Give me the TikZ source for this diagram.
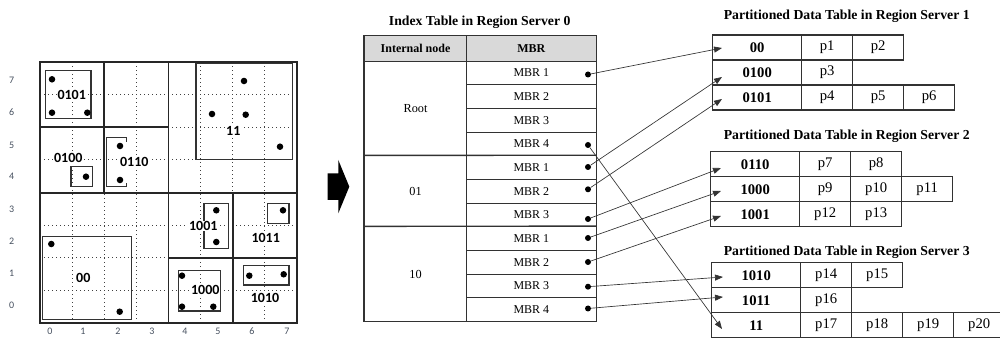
\documentclass[tikz,border=0pt]{standalone}
\usepackage{fontspec}
\setmainfont{Liberation Serif}
\newfontfamily\calib{Carlito}
\usetikzlibrary{arrows.meta}
\definecolor{axisc}{RGB}{70,80,95}
\definecolor{hdrgray}{RGB}{217,217,217}
\definecolor{tline}{RGB}{50,50,50}
\begin{document}
\begin{tikzpicture}[x=0.75pt,y=-0.75pt,
  quad/.style={line width=1.4pt, draw=black!85},
  dotline/.style={line width=0.75pt, draw=black!75, dash pattern=on 0.75pt off 2.25pt},
  mbrbox/.style={line width=0.8pt, draw=black!80},
  glabel/.style={font=\calib\bfseries\fontsize{10.5}{12}\selectfont, fill=white, inner sep=0.6pt},
  axlabel/.style={font=\calib\fontsize{7.5}{9}\selectfont, text=axisc},
  ttitle/.style={font=\bfseries\fontsize{10.3}{12}\selectfont, inner sep=0pt},
  tcell/.style={draw=tline, line width=0.6pt, inner sep=0pt, minimum height=17.75pt, minimum width=97pt, font=\fontsize{9}{10}\selectfont},
  hcell/.style={draw=tline, line width=0.6pt, fill=hdrgray, inner sep=0pt, minimum height=19pt, font=\bfseries\fontsize{9}{10}\selectfont},
  gcell/.style={draw=tline, line width=0.6pt, inner sep=0pt, minimum width=76.8pt, font=\fontsize{9.2}{10}\selectfont},
  sepline/.style={draw=tline, line width=1.1pt},
  keycell/.style={draw=tline, line width=0.8pt, inner sep=0pt, minimum height=18.75pt, minimum width=66.75pt, font=\bfseries\fontsize{11}{12}\selectfont},
  pcell/.style={draw=tline, line width=0.8pt, inner sep=0pt, minimum height=18.75pt, minimum width=38.25pt, font=\fontsize{11}{12}\selectfont},
  tdot/.style={circle, fill=black, inner sep=0pt, minimum size=4.5pt},
  conn/.style={draw=black!80, line width=0.5pt, -{Triangle[length=6pt,width=4.5pt]}}
]
\useasboundingbox (0,0) rectangle (1000,338);

% ---------- quadtree grid ----------
\begin{scope}[shift={(40,323)}, x=24.094pt, y=24.45pt]
  \foreach \i in {1,...,7}{
    \draw[dotline] (\i,0) -- (\i,8);
    \draw[dotline] (0,\i) -- (8,\i);
  }
  \draw[quad] (0,0) rectangle (8,8);
  \draw[quad] (4,0) -- (4,8) (0,4) -- (8,4) (2,4) -- (2,8) (0,6) -- (4,6) (6,0) -- (6,4) (4,2) -- (8,2);
\end{scope}

% MBR boxes
\draw[mbrbox] (45.3,70.7) rectangle (91,118.3);
\draw[mbrbox] (71,166.7) rectangle (92.3,186.7);
\draw[mbrbox] (126.7,141.7) -- (126.7,137.3) -- (106.7,137.3) -- (106.7,186.7) -- (126.7,186.7) -- (126.7,182.7);
\draw[mbrbox] (196,63.3) rectangle (292.3,159.3);
\draw[mbrbox] (204,203.3) rectangle (228.7,248.7);
\draw[mbrbox] (267.7,203.3) rectangle (289,223.3);
\draw[mbrbox] (178.3,270.3) rectangle (220.7,311);
\draw[mbrbox] (243.3,265.7) rectangle (289,285);
\draw[mbrbox] (42.3,236.7) rectangle (131.7,319.3);

% points
\foreach \p in {(52,79.3),(52,112.7),(87.3,112.7),(86,176.7),(120,146),(120,180),
  (244,81),(212,114),(245.7,114.7),(280,146.7),(216.3,210.3),(216.3,242),(283,210.3),
  (182,275.7),(182,306.7),(213.3,306.7),(249.3,275.7),(283.7,274.3),(51.3,244),(119.7,311.7)}
  \fill \p circle[radius=2.45pt];

% region labels
\node[glabel] (l0101) at (71.7,95) {0101};
\node[glabel] (l0100) at (68.3,157.7) {0100};
\node[glabel] (l0110) at (134.3,162.3) {0110};
\node[glabel] (l11) at (233.3,130.7) {11};
\node[glabel] (l1001) at (203.3,226) {1001};
\node[glabel] (l1011) at (265.7,238) {1011};
\node[glabel] (l1000) at (205.3,289.7) {1000};
\node[glabel] (l1010) at (265,297.7) {1010};
\node[glabel] (l00) at (83.3,278) {00};

% axis labels
\foreach \v/\yy in {7/80,6/112.3,5/145,4/176.7,3/209,2/241.7,1/273.3,0/305.7}
  \node[axlabel] (ya\v) at (11.7,\yy) {\v};
\foreach \u/\xx in {0/50,1/83,2/118,3/152,4/185,5/218,6/252,7/287}
  \node[axlabel, inner sep=0pt] (xa\u) at (\xx,331.5) {\u};

% big arrow
\fill (327.7,173.3) -- (338.3,173.3) -- (338.3,160) -- (349.3,186.7) -- (338.3,213.3) -- (338.3,200) -- (327.7,200) -- cycle;

% ---------- index table ----------
\node[ttitle] (ititle) at (479.7,22.7) {Index Table in Region Server 0};
\node[hcell, minimum width=76.8pt] (hin) at (415.5,48.35) {Internal node};
\node[hcell, minimum width=97pt] (hmbr) at (531.35,48.35) {MBR};
\foreach \k/\t in {1/MBR 1,2/MBR 2,3/MBR 3,4/MBR 4,5/MBR 1,6/MBR 2,7/MBR 3,8/MBR 1,9/MBR 2,10/MBR 3,11/MBR 4}
  \node[tcell] (m\k) at (531.35,{61+23.66*(\k-0.5)}) {\t};
\node[gcell, minimum height=70.98pt] (groot) at (415.5,108.32) {Root};
\node[gcell, minimum height=53.235pt] (g01) at (415.5,191.2) {01};
\node[gcell, minimum height=70.98pt] (g10) at (415.5,274) {10};
\draw[sepline] (g01.north west) -- (m5.north east);
\draw[sepline] (g10.north west) -- (m8.north east);
\draw[sepline] (hin.north west) rectangle (m11.south east);

% pointer dots
\node[tdot] (d1) at (588,74.5) {};
\node[tdot] (d4) at (588,145) {};
\node[tdot] (d5) at (588,167) {};
\node[tdot] (d6) at (588,189.3) {};
\node[tdot] (d7) at (588,219) {};
\node[tdot] (d8) at (588,238) {};
\node[tdot] (d9) at (588,262) {};
\node[tdot] (d10) at (588,286.7) {};
\node[tdot] (d11) at (588,308.5) {};

% ---------- data tables ----------
\node[ttitle] (p1title) at (846.7,16.7) {Partitioned Data Table in Region Server 1};
\node[keycell] (t1k1) at (757.2,47.5) {00};
\node[pcell] (t1a1) at (827.2,47.5) {p1};
\node[pcell] (t1b1) at (878.2,47.5) {p2};
\node[keycell] (t1k2) at (757.2,72.5) {0100};
\node[pcell] (t1a2) at (827.2,72.5) {p3};
\node[keycell] (t1k3) at (757.2,97.5) {0101};
\node[pcell] (t1a3) at (827.2,97.5) {p4};
\node[pcell] (t1b3) at (878.2,97.5) {p5};
\node[pcell] (t1c3) at (929.2,97.5) {p6};

\node[ttitle] (p2title) at (846.7,136.7) {Partitioned Data Table in Region Server 2};
\node[keycell] (t2k1) at (755.2,164.2) {0110};
\node[pcell] (t2a1) at (825.2,164.2) {p7};
\node[pcell] (t2b1) at (876.2,164.2) {p8};
\node[keycell] (t2k2) at (755.2,189.2) {1000};
\node[pcell] (t2a2) at (825.2,189.2) {p9};
\node[pcell] (t2b2) at (876.2,189.2) {p10};
\node[pcell] (t2c2) at (927.2,189.2) {p11};
\node[keycell] (t2k3) at (755.2,214.2) {1001};
\node[pcell] (t2a3) at (825.2,214.2) {p12};
\node[pcell] (t2b3) at (876.2,214.2) {p13};

\node[ttitle] (p3title) at (846.7,252.3) {Partitioned Data Table in Region Server 3};
\node[keycell] (t3k1) at (756.2,275.2) {1010};
\node[pcell] (t3a1) at (826.2,275.2) {p14};
\node[pcell] (t3b1) at (877.2,275.2) {p15};
\node[keycell] (t3k2) at (756.2,300.2) {1011};
\node[pcell] (t3a2) at (826.2,300.2) {p16};
\node[keycell] (t3k3) at (756.2,325.2) {11};
\node[pcell] (t3a3) at (826.2,325.2) {p17};
\node[pcell] (t3b3) at (877.2,325.2) {p18};
\node[pcell] (t3c3) at (928.2,325.2) {p19};
\node[pcell] (t3d3) at (979.2,325.2) {p20};

% arrow targets
\coordinate (a00) at (722,48);
\coordinate (a0100) at (722,77);
\coordinate (a0101) at (722,99);
\coordinate (a0110) at (721,168);
\coordinate (a1000) at (721,191);
\coordinate (a1001) at (721,216);
\coordinate (a1010) at (723,277);
\coordinate (a1011) at (723,297);
\coordinate (a11) at (722,329);

% connectors
\draw[conn] (d1) -- (a00);
\draw[conn] (d4) -- (a11);
\draw[conn] (d5) -- (a0100);
\draw[conn] (d6) -- (a0101);
\draw[conn] (d7) -- (a0110);
\draw[conn] (d8) -- (a1000);
\draw[conn] (d9) -- (a1001);
\draw[conn] (d10) -- (a1010);
\draw[conn] (d11) -- (a1011);
\end{tikzpicture}
\end{document}
